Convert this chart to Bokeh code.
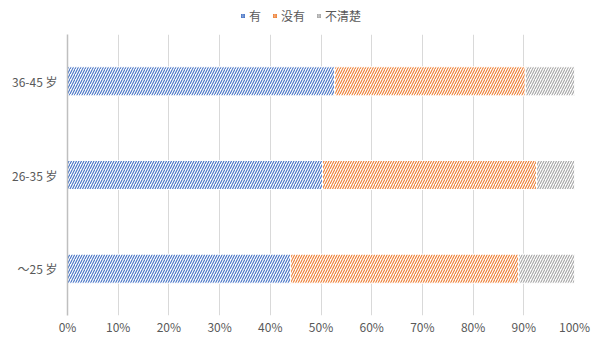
from bokeh.plotting import figure
from bokeh.layouts import column
from bokeh.models import FactorRange, Range1d, FixedTicker, Legend, LegendItem, ColumnDataSource
from bokeh.embed import file_html
from bokeh.resources import INLINE

categories = ["～25 岁", "26-35 岁", "36-45 岁"]
series = ["有", "没有", "不清楚"]
yes_vals = [44.0, 50.3, 52.7]
no_vals = [45.0, 42.2, 37.6]
unsure_vals = [11.0, 7.5, 9.7]
colors = ["#4472C4", "#ED7D31", "#A5A5A5"]
ticks = [0, 10, 20, 30, 40, 50, 60, 70, 80, 90, 100]

FONT = "Noto Sans CJK SC"
TXT = "#595959"

src = ColumnDataSource(dict(cat=categories, 有=yes_vals, 没有=no_vals, 不清楚=unsure_vals))

# ---- main chart
p = figure(width=606, height=307, output_backend="svg", toolbar_location=None,
           y_range=FactorRange(*categories), x_range=Range1d(0, 100),
           min_border_left=67, min_border_right=32, min_border_top=0, min_border_bottom=26)

renderers = p.hbar_stack(series, y="cat", height=0.31, source=src,
                         fill_color="white", line_color="white", line_width=1,
                         hatch_color=colors, hatch_pattern="right_diagonal_line",
                         hatch_scale=5, hatch_weight=1.1)

p.outline_line_color = None
p.background_fill_color = "white"
p.border_fill_color = "white"

p.xaxis.ticker = FixedTicker(ticks=ticks)
p.xaxis.major_label_overrides = {t: f"{t}%" for t in ticks}
p.xaxis.axis_line_color = None
p.xaxis.major_tick_line_color = None
p.xaxis.minor_tick_line_color = None
p.xaxis.major_tick_out = 0
p.xaxis.major_tick_in = 0
p.xaxis.major_label_text_font = FONT
p.xaxis.major_label_text_font_size = "12px"
p.xaxis.major_label_text_color = TXT
p.xaxis.major_label_standoff = 2

p.yaxis.axis_line_color = "#BFBFBF"
p.yaxis.axis_line_width = 1.5
p.yaxis.major_tick_line_color = None
p.yaxis.minor_tick_line_color = None
p.yaxis.major_label_text_font = FONT
p.yaxis.major_label_text_font_size = "12px"
p.yaxis.major_label_text_color = TXT
p.yaxis.major_label_standoff = 4

p.xgrid.grid_line_color = "#D9D9D9"
p.xgrid.ticker = FixedTicker(ticks=ticks)
p.ygrid.grid_line_color = None

# ---- legend strip (legend-only renderers kept outside the visible range)
lg = figure(width=606, height=34, output_backend="svg", toolbar_location=None,
            x_range=Range1d(0, 1), y_range=Range1d(0, 1),
            min_border=0, min_border_left=0, min_border_right=0, min_border_top=0, min_border_bottom=0)
lg.axis.visible = False
lg.grid.visible = False
lg.outline_line_color = None
lg.border_fill_color = "white"
dummy = []
for c in colors:
    dummy.append(lg.hbar(y=[-10], right=[-10], left=[-11], height=0.1,
                         fill_color=c, fill_alpha=0.3, line_color=None,
                         hatch_color=c, hatch_pattern="right_diagonal_line",
                         hatch_scale=2.5, hatch_weight=1))

legend = Legend(items=[LegendItem(label=s, renderers=[r]) for s, r in zip(series, dummy)],
                orientation="horizontal", location=(173, 10),
                label_text_font=FONT, label_text_font_size="12px", label_text_color=TXT,
                glyph_width=5, glyph_height=5, label_standoff=4, spacing=11,
                label_width=0, padding=0, margin=0, border_line_color=None, background_fill_alpha=0,
                label_height=14)
lg.add_layout(legend, "center")

layout = column(lg, p, spacing=0)
open("out.html", "w").write(file_html(layout, INLINE))
